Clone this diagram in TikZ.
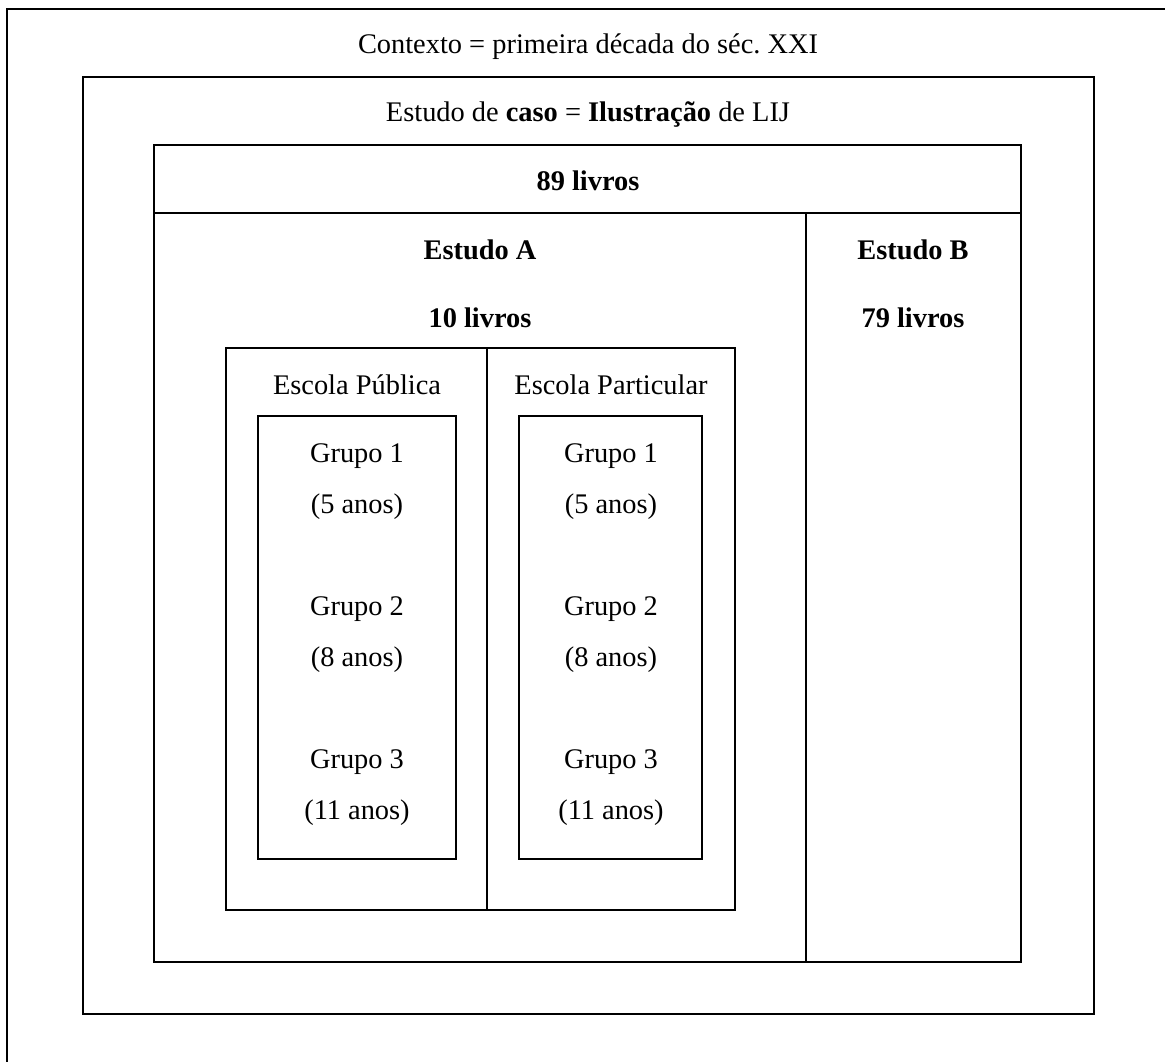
\documentclass[tikz,border=0pt]{standalone}
\usepackage{fontspec}
\setmainfont{Liberation Serif}
\frenchspacing
\begin{document}
\begin{tikzpicture}[x=1pt,y=-1pt,
  box/.style={draw=black,line width=2.6pt},
  txt/.style={anchor=base,inner sep=0pt,font=\fontsize{28.4}{34}\selectfont},
  btxt/.style={txt,font=\fontsize{28.4}{34}\selectfont\bfseries}]
\useasboundingbox (0,0) rectangle (1165,1062);
\clip (0,0) rectangle (1165,1062);
% outer context box (extends beyond the picture)
\draw[box] (7,9) rectangle (1200,1100);
% case study box
\draw[box] (83,77) rectangle (1094,1014);
% 89 livros box
\draw[box] (154,145) rectangle (1021,962);
\draw[box] (154,213) -- (1021,213);
\draw[box] (806,213) -- (806,962);
% schools box
\draw[box] (226,348) rectangle (735,910);
\draw[box] (487,348) -- (487,910);
% group boxes
\draw[box] (258,416) rectangle (456,859);
\draw[box] (519,416) rectangle (702,859);

\node[txt] (ctx) at (588,54) {Contexto = primeira década do séc.\ XXI};
\node[txt] (caso) at (588,122) {Estudo de \textbf{caso} = \textbf{Ilustração} de LIJ};
\node[btxt] (l89) at (588,190) {89 livros};
\node[btxt] (ea) at (480,259) {Estudo A};
\node[btxt] (eb) at (913,259) {Estudo B};
\node[btxt] (l10) at (480,327) {10 livros};
\node[btxt] (l79) at (913,327) {79 livros};
\node[txt] (pub) at (357,394) {Escola Pública};
\node[txt] (par) at (611,394) {Escola Particular};
\node[txt] (pg1) at (357,462) {Grupo 1};
\node[txt] (pa1) at (357,513) {(5 anos)};
\node[txt] (pg2) at (357,615) {Grupo 2};
\node[txt] (pa2) at (357,666) {(8 anos)};
\node[txt] (pg3) at (357,768) {Grupo 3};
\node[txt] (pa3) at (357,819) {(11 anos)};
\node[txt] (rg1) at (611,462) {Grupo 1};
\node[txt] (ra1) at (611,513) {(5 anos)};
\node[txt] (rg2) at (611,615) {Grupo 2};
\node[txt] (ra2) at (611,666) {(8 anos)};
\node[txt] (rg3) at (611,768) {Grupo 3};
\node[txt] (ra3) at (611,819) {(11 anos)};
\end{tikzpicture}
\end{document}
